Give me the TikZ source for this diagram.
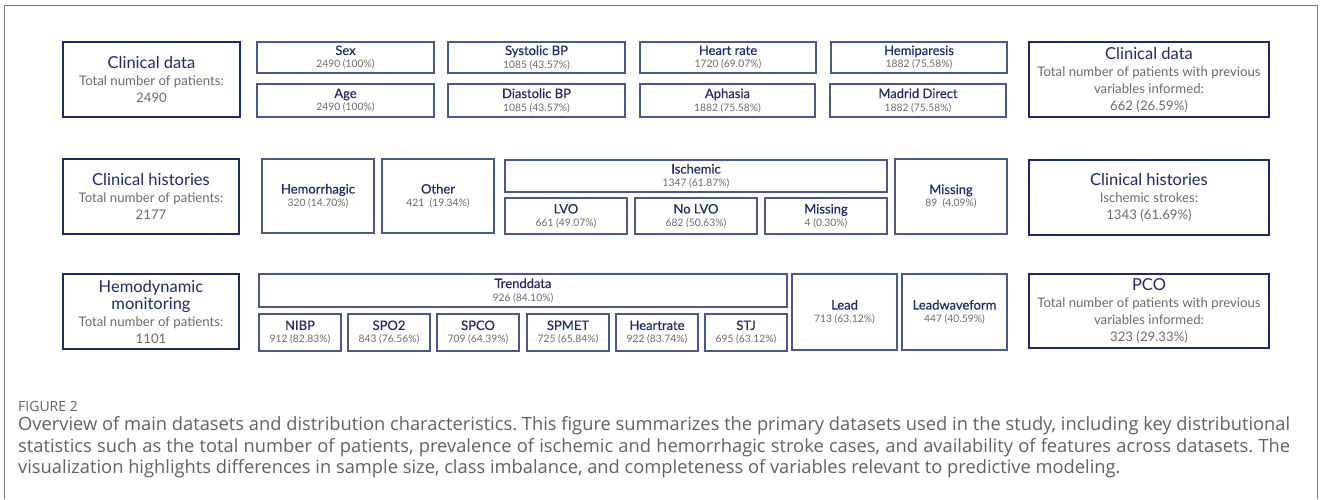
\documentclass[tikz,border=0pt]{standalone}
\usepackage{fontspec}
\setmainfont{Lato}
\newfontfamily\medfont[FakeBold=0.35]{Lato}
\newfontfamily\capfont{Open Sans}
\definecolor{navy}{HTML}{1C2A6C}
\definecolor{slate}{HTML}{4A5890}
\definecolor{numgray}{HTML}{6A6A6A}
\definecolor{capgray}{HTML}{616161}
\definecolor{framegray}{HTML}{7A7A7A}
% small cell: title over count
\newcommand\cellt[2]{{\medfont\fontsize{13}{13}\selectfont\color{navy}#1}\\{\fontsize{10.3}{13}\selectfont\color{numgray}#2}}
% summary cell: title over description lines
\newcommand\bigt[1]{{\fontsize{16.5}{17}\selectfont\color{navy}#1}}
\newcommand\bigs[1]{{\fontsize{13.2}{17}\selectfont\color{numgray}#1}}
\frenchspacing
\begin{document}
\begin{tikzpicture}[x=1pt,y=-1pt,
  mainbox/.style={draw=navy, line width=2.2pt, align=center, inner sep=0pt,
    font=\fontsize{12.5}{17}\selectfont},
  subbox/.style={draw=slate, line width=1.2pt, align=center, inner sep=0pt,
    font=\fontsize{10}{13}\selectfont},
  captxt/.style={anchor=base west, inner sep=0pt, text=capgray,
    font=\capfont\fontsize{18.3}{22}\selectfont},
  wh/.style 2 args={minimum width=#1pt, minimum height=#2pt}]
\useasboundingbox (0,0) rectangle (1328,499);
\draw[framegray, line width=1pt] (4,499) -- (4,5) -- (1317,5) -- (1317,499);

% ---- clinical data ----
\node[mainbox, wh={177}{75}] (cd1) at (151.5,79.5)
  {\bigt{Clinical data}\\\bigs{Total number of patients:}\\\bigs{2490}};
\node[subbox, wh={177}{31}] (sex) at (345.5,57.5) {\cellt{Sex}{2490 (100\%)}};
\node[subbox, wh={177}{33}] (age) at (345.5,100.5) {\cellt{Age}{2490 (100\%)}};
\node[subbox, wh={177}{31}] (sbp) at (536.5,57.5) {\cellt{Systolic BP}{1085 (43.57\%)}};
\node[subbox, wh={177}{33}] (dbp) at (536.5,100.5) {\cellt{Diastolic BP}{1085 (43.57\%)}};
\node[subbox, wh={176}{31}] (hr) at (728,57.5) {\cellt{Heart rate}{1720 (69.07\%)}};
\node[subbox, wh={175}{33}] (aph) at (727.5,100.5) {\cellt{Aphasia}{1882 (75.58\%)}};
\node[subbox, wh={176}{31}] (hemi) at (919,57.5) {\cellt{Hemiparesis}{1882 (75.58\%)}};
\node[subbox, wh={176}{33}] (mad) at (918,100.5) {\cellt{Madrid Direct}{1882 (75.58\%)}};
\node[mainbox, wh={240}{75}] (cd2) at (1149,79.5)
  {\bigt{Clinical data}\\\bigs{Total number of patients with previous}\\\bigs{variables informed:}\\\bigs{662 (26.59\%)}};

% ---- clinical histories ----
\node[mainbox, wh={176}{75}] (ch1) at (151,196.5)
  {\bigt{Clinical histories}\\\bigs{Total number of patients:}\\\bigs{2177}};
\node[subbox, wh={112}{74}] (hem) at (318,196) {\cellt{Hemorrhagic}{320 (14.70\%)}};
\node[subbox, wh={112}{74}] (oth) at (438,196) {\cellt{Other}{421\ \ (19.34\%)}};
\node[subbox, wh={382}{32}] (isc) at (696,176) {\cellt{Ischemic}{1347 (61.87\%)}};
\node[subbox, wh={122}{36}] (lvo) at (566,216) {\cellt{LVO}{661 (49.07\%)}};
\node[subbox, wh={122}{36}] (nlvo) at (696,216) {\cellt{No LVO}{682 (50.63\%)}};
\node[subbox, wh={122}{36}] (imis) at (826,216) {\cellt{Missing}{4 (0.30\%)}};
\node[subbox, wh={112}{75}] (mis) at (951,196.5) {\cellt{Missing}{89\ \ (4.09\%)}};
\node[mainbox, wh={240}{75}] (ch2) at (1149,197.5)
  {\bigt{Clinical histories}\\\bigs{Ischemic strokes:}\\\bigs{1343 (61.69\%)}};

% ---- hemodynamic monitoring ----
\node[mainbox, wh={176}{75}] (hm1) at (151,311.5)
  {\bigt{Hemodynamic}\\\bigt{monitoring}\\\bigs{Total number of patients:}\\\bigs{1101}};
\node[subbox, wh={528}{33}] (trd) at (523,290.5) {\cellt{Trenddata}{926 (84.10\%)}};
\node[subbox, wh={82}{37}] (nibp) at (300,332.5) {\cellt{NIBP}{912 (82.83\%)}};
\node[subbox, wh={82}{37}] (spo) at (389,332.5) {\cellt{SPO2}{843 (76.56\%)}};
\node[subbox, wh={82}{37}] (spco) at (478,332.5) {\cellt{SPCO}{709 (64.39\%)}};
\node[subbox, wh={82}{37}] (spm) at (568,332.5) {\cellt{SPMET}{725 (65.84\%)}};
\node[subbox, wh={82}{37}] (hrt) at (657,332.5) {\cellt{Heartrate}{922 (83.74\%)}};
\node[subbox, wh={82}{37}] (stj) at (746,332.5) {\cellt{STJ}{695 (63.12\%)}};
\node[subbox, wh={105}{76}] (lead) at (844.5,312) {\cellt{Lead}{713 (63.12\%)}};
\node[subbox, wh={105}{76}] (lwf) at (954.5,312) {\cellt{Leadwaveform}{447 (40.59\%)}};
\node[mainbox, wh={240}{74}] (pco) at (1149,311)
  {\bigt{PCO}\\\bigs{Total number of patients with previous}\\\bigs{variables informed:}\\\bigs{323 (29.33\%)}};

% ---- caption ----
\node[anchor=base west, inner sep=0pt, text=capgray, font=\capfont\fontsize{14}{16}\selectfont] (fig) at (18,411) {FIGURE 2};
\node[captxt] (cap1) at (18,430)
  {\hbox to 1272pt{Overview of main datasets and distribution characteristics. This figure summarizes the primary datasets used in the study, including key distributional}};
\node[captxt] (cap2) at (18,452)
  {\hbox to 1272pt{statistics such as the total number of patients, prevalence of ischemic and hemorrhagic stroke cases, and availability of features across datasets. The}};
\node[captxt] (cap3) at (18,473)
  {visualization highlights differences in sample size, class imbalance, and completeness of variables relevant to predictive modeling.};
\end{tikzpicture}
\end{document}
